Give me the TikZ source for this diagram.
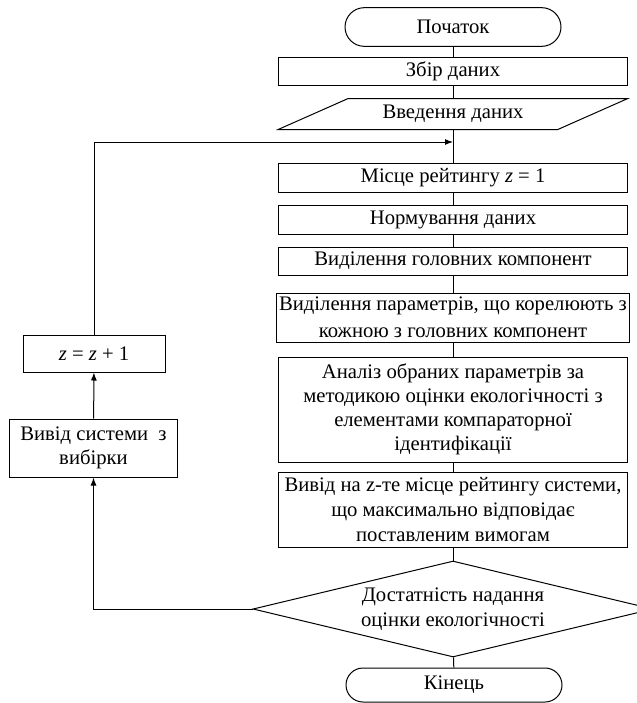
\documentclass[tikz,border=0pt]{standalone}
\usepackage{fontspec}
\setmainfont{Liberation Serif}
\usetikzlibrary{calc,arrows.meta,shapes.geometric}

\begin{document}
\begin{tikzpicture}[
x=0.75pt, y=-0.75pt, line width=0.75pt,
every node/.style={align=center, font=\fontsize{15.5}{18.5}\selectfont},
box/.style={draw, rectangle, minimum width=262pt, inner sep=2pt},
sidebox/.style={draw, rectangle, inner sep=2pt},
term/.style={draw, rectangle, minimum width=162pt},
io/.style={rectangle, minimum width=209pt, minimum height=22.5pt, inner sep=0pt},
cond/.style={draw, diamond, aspect=4, inner sep=0pt, minimum width=300pt, minimum height=72pt},
arr/.style={-{Latex[length=6pt,width=4.5pt]}}
]
\useasboundingbox (0,0) rectangle (636,703);
% main column
\node[term, minimum height=29pt, rounded corners=14.5pt] (start) at (453,27) {Початок};
\node[box, minimum height=21pt] (collect) at (453,71) {Збір даних};
\node[io] (input) at (453,114) {Введення даних};
\draw ($(input.south west)+(-35,0)$) -- ($(input.north west)+(35,0)$)
  -- ($(input.north east)+(35,0)$) -- ($(input.south east)+(-35,0)$) -- cycle;
\node[box, minimum height=21.75pt] (z1) at (453,177.5) {Місце рейтингу \textit{z} = 1};
\node[box, minimum height=21.75pt] (norm) at (453,219.5) {Нормування даних};
\node[box, minimum height=21pt] (comp) at (453,261) {Виділення головних компонент};
\node[box, minimum height=36.75pt, font=\fontsize{15.5}{20}\selectfont] (params) at (453,317.5)
  {Виділення параметрів, що корелюють з\\кожною з головних компонент};
\node[box, minimum height=78.75pt, font=\fontsize{15.5}{18}\selectfont] (analysis) at (453,409.5)
  {Аналіз обраних параметрів за\\методикою оцінки екологічності з\\елементами компараторної\\ідентифікації};
\node[box, minimum height=56.25pt] (output) at (453,509.5)
  {Вивід на z-те місце рейтингу системи,\\що максимально відповідає\\поставленим вимогам};
\node[cond] (check) at (453,609) {Достатність надання\\оцінки екологічності};
\node[term, minimum height=25.5pt, rounded corners=12.75pt] (fin) at (454,685) {Кінець};
% side branch
\node[sidebox, minimum width=106.5pt, minimum height=27.75pt] (zinc) at (94,353.5) {\textit{z} = \textit{z} + 1};
\node[sidebox, minimum width=126pt, minimum height=43.5pt, font=\fontsize{15.5}{17.5}\selectfont] (sel) at (93.5,448)
  {Вивід системи\ \ з\\вибірки};
\coordinate (loop) at (453,142);

\foreach \a/\b in {start/collect, collect/input, input/z1, z1/norm, norm/comp,
  comp/params, params/analysis, analysis/output, output/check, check/fin}
  \draw (\a) -- (\b);
\draw[arr] (check.west) -| (sel.south);
\draw[arr] (sel) -- (zinc);
\draw[arr] (zinc.north) |- (loop);
\end{tikzpicture}
\end{document}
